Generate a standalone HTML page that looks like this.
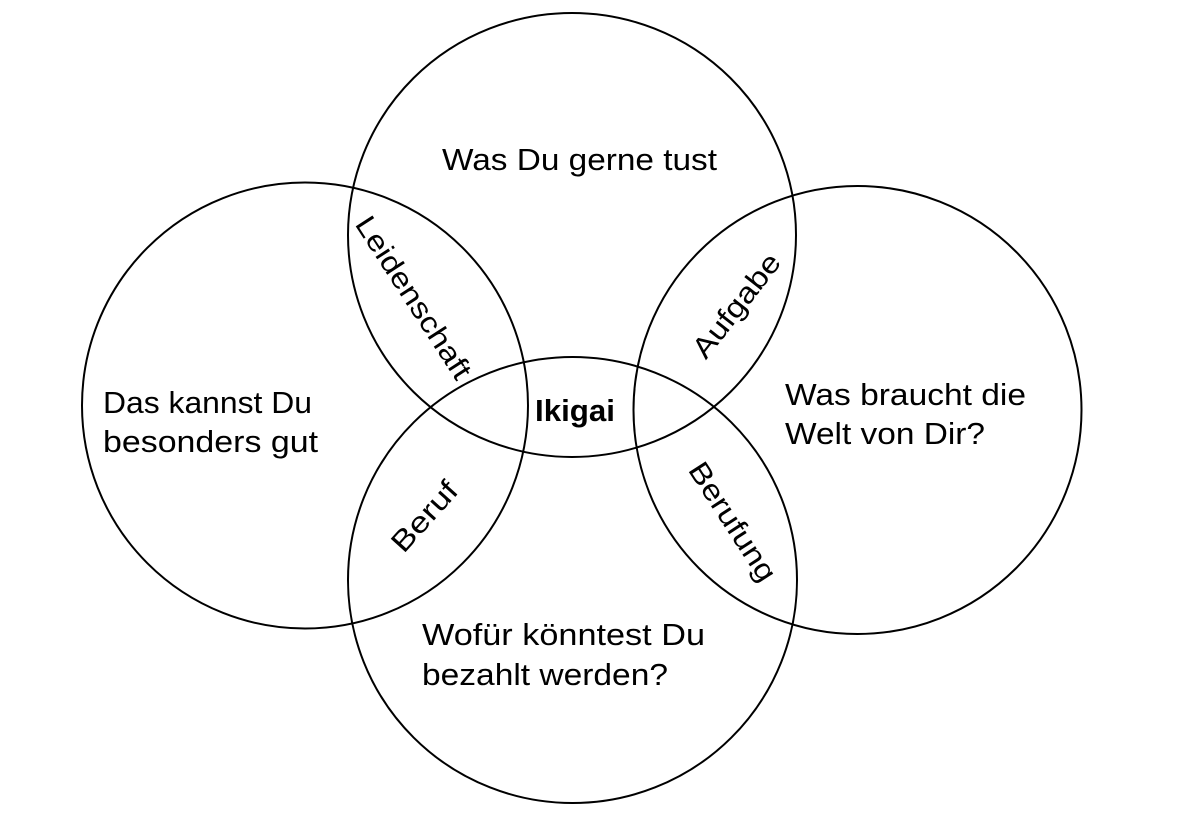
<!DOCTYPE html>
<html>
<head>
<meta charset="utf-8">
<style>
  html, body { margin: 0; padding: 0; background: #ffffff; }
  body { width: 1186px; height: 838px; overflow: hidden; }
  svg { display: block; }
  text { font-family: "Liberation Sans", "DejaVu Sans", sans-serif; fill: #000; }
</style>
</head>
<body>
<svg width="1186" height="838" viewBox="0 0 1186 838" xmlns="http://www.w3.org/2000/svg">
  <rect x="0" y="0" width="1186" height="838" fill="#ffffff"/>
  <g fill="none" stroke="#000" stroke-width="2">
    <ellipse cx="572" cy="235" rx="224" ry="222"/>
    <ellipse cx="305" cy="405.5" rx="223" ry="223"/>
    <ellipse cx="857.5" cy="410" rx="224" ry="224"/>
    <ellipse cx="572.5" cy="580" rx="224.5" ry="223"/>
  </g>

  <g font-size="31">
    <text x="442" y="170" textLength="275" lengthAdjust="spacingAndGlyphs">Was Du gerne tust</text>

    <text x="103" y="413" textLength="209" lengthAdjust="spacingAndGlyphs">Das kannst Du</text>
    <text x="103" y="452" textLength="215" lengthAdjust="spacingAndGlyphs">besonders gut</text>

    <text x="785" y="405" textLength="241" lengthAdjust="spacingAndGlyphs">Was braucht die</text>
    <text x="785" y="444" textLength="200" lengthAdjust="spacingAndGlyphs">Welt von Dir?</text>

    <text x="422" y="645" textLength="283" lengthAdjust="spacingAndGlyphs">Wofür könntest Du</text>
    <text x="422" y="685" textLength="246" lengthAdjust="spacingAndGlyphs">bezahlt werden?</text>

    <text x="535" y="421" font-weight="bold" textLength="80" lengthAdjust="spacingAndGlyphs">Ikigai</text>
  </g>

  <g font-size="29" text-anchor="middle">
    <g transform="translate(413,298) rotate(57)">
      <text x="0" y="9" textLength="188" lengthAdjust="spacingAndGlyphs">Leidenschaft</text>
    </g>
    <g transform="translate(737,306) rotate(-52)">
      <text x="0" y="9" textLength="124" lengthAdjust="spacingAndGlyphs">Aufgabe</text>
    </g>
    <g transform="translate(732,522) rotate(57)">
      <text x="0" y="9" textLength="136" lengthAdjust="spacingAndGlyphs">Berufung</text>
    </g>
    <g transform="translate(425,517) rotate(-48)">
      <text x="0" y="9" textLength="84" lengthAdjust="spacingAndGlyphs">Beruf</text>
    </g>
  </g>
</svg>
</body>
</html>
